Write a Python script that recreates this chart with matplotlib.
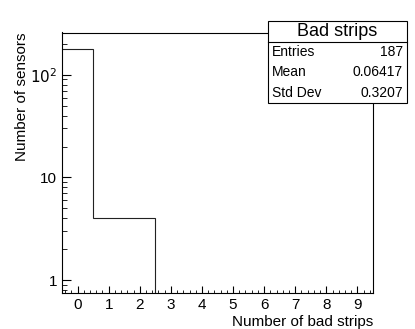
import matplotlib
matplotlib.use("Agg")
import matplotlib.pyplot as plt
import numpy as np
from matplotlib.ticker import FixedLocator, MultipleLocator, NullFormatter

plt.rcParams['font.family'] = ['Liberation Sans', 'DejaVu Sans']

edges = np.arange(-0.5, 10.5, 1.0)
counts = [179, 4, 4, 0, 0, 0, 0, 0, 0, 0]
stats_names = ['Entries', 'Mean', 'Std Dev']
stats_values = ['187', '0.06417', '0.3207']

fig = plt.figure(figsize=(4.15, 3.29), dpi=100)
ax = fig.add_axes([62/415, 1-293/329, (373-62)/415, (293-32.5)/329])

ax.stairs(counts, edges, color='#222222', lw=0.8, baseline=None)
ax.set_yscale('log')
ax.set_xlim(-0.5, 9.5)
ax.set_ylim(0.75, 258)

ax.xaxis.set_major_locator(MultipleLocator(1))
ax.xaxis.set_minor_locator(MultipleLocator(0.2))
ax.yaxis.set_major_locator(FixedLocator([1, 10, 100]))
ax.yaxis.set_minor_locator(FixedLocator([d*m for d in [0.1, 1, 10, 100] for m in range(2, 10)]))
ax.yaxis.set_minor_formatter(NullFormatter())
ax.set_yticklabels(['1', '10', r'$10^{2}$'])
ax.tick_params(which='both', direction='in', top=False, right=False, labelsize=11, colors='black')
ax.tick_params(axis='x', which='major', length=5)
ax.tick_params(axis='x', which='minor', length=2.5)
ax.tick_params(axis='y', which='major', length=6.5)
ax.tick_params(axis='y', which='minor', length=3.5)
for s in ax.spines.values():
    s.set_linewidth(0.8)

ax.set_xlabel('Number of bad strips', fontsize=11, loc='right', labelpad=2)
ax.set_ylabel('Number of sensors', fontsize=11, loc='top', labelpad=1)

# stats box
bx0, by0, bx1, by1 = 268/415, 1-103/329, 407/415, 1-21/329
fig.patches.append(plt.Rectangle((bx0, by0), bx1-bx0, by1-by0, transform=fig.transFigure,
                                 facecolor='white', edgecolor='black', lw=0.8, zorder=5))
sep = 1-42/329
fig.add_artist(plt.Line2D([bx0, bx1], [sep, sep], transform=fig.transFigure, color='black', lw=0.8, zorder=6))
fig.text((bx0+bx1)/2, (sep+by1)/2, 'Bad strips', ha='center', va='center', fontsize=13, zorder=7)
rowh = (sep - by0) / 3
for i, (n, v) in enumerate(zip(stats_names, stats_values)):
    yc = sep - rowh*(i+0.5)
    fig.text(bx0+4/415, yc, n, ha='left', va='center', fontsize=10, zorder=7)
    fig.text(bx1-4/415, yc, v, ha='right', va='center', fontsize=10, zorder=7)

fig.savefig('out.png', dpi=100)
